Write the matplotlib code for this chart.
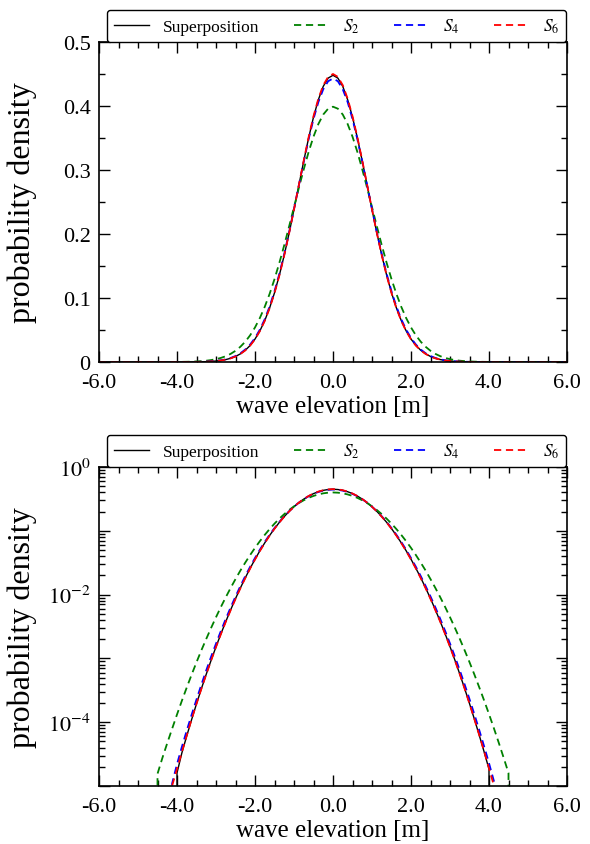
import math
import matplotlib
matplotlib.use('Agg')
import matplotlib.pyplot as plt
from matplotlib.ticker import FixedLocator, MultipleLocator, LogLocator, NullFormatter, FuncFormatter

plt.rcParams['font.family'] = ['Liberation Serif', 'DejaVu Serif']
plt.rcParams['mathtext.fontset'] = 'stix'
plt.rcParams['axes.unicode_minus'] = False

# ---- data ----
x = [-6.0,
     -4.75, -4.625, -4.5, -4.375, -4.25, -4.125, -4.0, -3.875,
     -3.75, -3.625, -3.5, -3.375, -3.25, -3.125, -3.0, -2.875,
     -2.75, -2.625, -2.5, -2.375, -2.25, -2.125, -2.0, -1.875,
     -1.75, -1.625, -1.5, -1.375, -1.25, -1.125, -1.0, -0.875,
     -0.75, -0.625, -0.5, -0.375, -0.25, -0.125,
     0.0,
     0.125, 0.25, 0.375, 0.5, 0.625, 0.75,
     0.875, 1.0, 1.125, 1.25, 1.375, 1.5, 1.625, 1.75,
     1.875, 2.0, 2.125, 2.25, 2.375, 2.5, 2.625, 2.75,
     2.875, 3.0, 3.125, 3.25, 3.375, 3.5, 3.625, 3.75,
     3.875, 4.0, 4.125, 4.25, 4.375, 4.5, 4.625, 4.75,
     6.0]

superposition = [0,
    0, 0, 0, 0, 0, 0, 1.6e-5, 3.3e-5,
    6.1e-5, 1.10e-4, 1.94e-4, 3.35e-4, 5.65e-4, 9.35e-4, 1.52e-3, 2.42e-3,
    3.77e-3, 5.76e-3, 8.64e-3, 0.01270, 0.01830, 0.0258, 0.0358, 0.0486,
    0.0647, 0.0845, 0.1081, 0.1357, 0.1670, 0.2014, 0.2383, 0.2763,
    0.3141, 0.3501, 0.3826, 0.4099, 0.4307, 0.4436,
    0.448,
    0.4436, 0.4307, 0.4099, 0.3826, 0.3501, 0.3141,
    0.2763, 0.2383, 0.2015, 0.1671, 0.1358, 0.1082, 0.0846, 0.0648,
    0.0487, 0.0359, 0.0259, 0.01834, 0.01274, 0.00867, 0.00578, 0.00379,
    0.00243, 0.00153, 0.000942, 0.000570, 0.000338, 0.000196, 0.000112, 6.25e-5,
    3.43e-5, 1.84e-5, 0, 0, 0, 0, 0, 0,
    0]

s2 = [0,
    0, 0, 1.55e-5, 2.75e-5, 4.7e-5, 7.9e-5, 1.32e-4, 2.17e-4,
    3.50e-4, 5.56e-4, 8.70e-4, 1.34e-3, 2.02e-3, 3.01e-3, 4.42e-3, 6.39e-3,
    9.07e-3, 0.0127, 0.0175, 0.0238, 0.0317, 0.0417, 0.0540, 0.0688,
    0.0863, 0.1065, 0.1295, 0.1550, 0.1826, 0.2119, 0.2420, 0.2721,
    0.3011, 0.3282, 0.3521, 0.3719, 0.3867, 0.3958,
    0.3989,
    0.3958, 0.3867, 0.3719, 0.3521, 0.3282, 0.3011,
    0.2721, 0.2420, 0.2119, 0.1826, 0.1550, 0.1295, 0.1065, 0.0863,
    0.0688, 0.0540, 0.0417, 0.0317, 0.0238, 0.0175, 0.0127, 0.00909,
    0.00640, 0.00443, 0.00302, 0.00203, 0.00134, 0.000873, 0.000559, 0.000352,
    0.000219, 0.000134, 8.05e-5, 4.77e-5, 2.78e-5, 1.60e-5, 0, 0,
    0]

s4 = [0,
    0, 0, 0, 0, 0, 1.1e-5, 2.2e-5, 4.1e-5,
    7.4e-5, 1.31e-4, 2.27e-4, 3.88e-4, 6.50e-4, 1.065e-3, 1.70e-3, 2.69e-3,
    4.15e-3, 6.28e-3, 9.33e-3, 0.01360, 0.0195, 0.0273, 0.0375, 0.0506,
    0.0669, 0.0868, 0.1105, 0.1379, 0.1688, 0.2028, 0.2390, 0.2762,
    0.3131, 0.3481, 0.3797, 0.4062, 0.4262, 0.4387,
    0.443,
    0.4387, 0.4262, 0.4062, 0.3797, 0.3481, 0.3131,
    0.2762, 0.2390, 0.2028, 0.1688, 0.1379, 0.1105, 0.0868, 0.0669,
    0.0506, 0.0375, 0.0273, 0.0195, 0.01362, 0.00935, 0.00630, 0.00416,
    0.00270, 0.00171, 0.00107, 0.000653, 0.000391, 0.000230, 0.000133, 7.52e-5,
    4.18e-5, 2.28e-5, 1.2e-5, 0, 0, 0, 0, 0,
    0]

s6 = [0,
    0, 0, 0, 0, 0, 1.01e-5, 1.85e-5, 3.4e-5,
    6.2e-5, 1.11e-4, 1.94e-4, 3.34e-4, 5.62e-4, 9.30e-4, 1.51e-3, 2.40e-3,
    3.74e-3, 5.69e-3, 8.55e-3, 0.01256, 0.0181, 0.0256, 0.0355, 0.0483,
    0.0643, 0.0841, 0.1077, 0.1353, 0.1667, 0.2013, 0.2384, 0.2767,
    0.3148, 0.3512, 0.3840, 0.4115, 0.4325, 0.4455,
    0.450,
    0.4455, 0.4325, 0.4115, 0.3840, 0.3512, 0.3148,
    0.2767, 0.2384, 0.2013, 0.1667, 0.1353, 0.1077, 0.0841, 0.0643,
    0.0483, 0.0355, 0.0256, 0.0181, 0.01258, 0.00856, 0.00571, 0.00375,
    0.00241, 0.00152, 0.000935, 0.000566, 0.000336, 0.000195, 0.000112, 6.3e-5,
    3.5e-5, 1.9e-5, 1.02e-5, 0, 0, 0, 0, 0,
    0]

series_labels = ['Superposition', '$S_2$', '$S_4$', '$S_6$']
xticks = [-6, -4, -2, 0, 2, 4, 6]
xtick_labels = ['-6.0', '-4.0', '-2.0', '0.0', '2.0', '4.0', '6.0']
yticks_lin = [0, 0.1, 0.2, 0.3, 0.4, 0.5]
ytick_lin_labels = ['0', '0.1', '0.2', '0.3', '0.4', '0.5']
xlabel = 'wave elevation [m]'
ylabel = 'probability density'

W, H = 590, 845
fig = plt.figure(figsize=(W / 100, H / 100), dpi=100)

def px_axes(l, t, r, b):
    return fig.add_axes([l / W, 1 - b / H, (r - l) / W, (b - t) / H])

ax1 = px_axes(99, 43, 567, 363)
ax2 = px_axes(99, 468, 567, 787)

styles = [
    dict(color='black', lw=1.0, ls='-'),
    dict(color='#008000', lw=1.3, ls=(0, (4, 2.6))),
    dict(color='#0000ff', lw=1.3, ls=(0, (4, 2.6))),
    dict(color='#ff0000', lw=1.3, ls=(0, (4, 2.6))),
]
data = [superposition, s2, s4, s6]

for ax in (ax1, ax2):
    for d, st, lab in zip(data, styles, series_labels):
        ax.plot(x, d, label=lab, **st)
    ax.set_xlim(-6, 6)
    ax.xaxis.set_major_locator(FixedLocator(xticks))
    ax.set_xticklabels(xtick_labels)
    ax.xaxis.set_minor_locator(MultipleLocator(0.5))
    ax.tick_params(which='both', direction='in', top=True, right=True,
                   labelsize=16, width=1.0)
    ax.tick_params(which='major', length=8, pad=6)
    ax.tick_params(axis='x', which='major', pad=8)
    ax.tick_params(which='minor', length=4)
    for sp in ax.spines.values():
        sp.set_linewidth(1.2)
    ax.set_xlabel(xlabel, fontsize=18, labelpad=2)
    ax.set_ylabel(ylabel, fontsize=23)
    ax.yaxis.set_label_coords(-0.133, 0.5)
    leg = ax.legend(loc='lower left', bbox_to_anchor=(0.017, 1.0, 0.981, 0.1),
                    mode='expand', ncol=4, fontsize=12.5, frameon=True,
                    fancybox=True, edgecolor='black', framealpha=1,
                    borderaxespad=0, handlelength=2.0, columnspacing=2.0)
    leg.get_frame().set_linewidth(1.0)

ax1.set_ylim(0, 0.5)
ax1.yaxis.set_major_locator(FixedLocator(yticks_lin))
ax1.set_yticklabels(ytick_lin_labels)
ax1.yaxis.set_minor_locator(MultipleLocator(0.05))

ax2.set_yscale('log')
ax2.set_ylim(1e-5, 1)
ax2.yaxis.set_major_locator(LogLocator(base=10, numticks=20))
ax2.yaxis.set_minor_locator(LogLocator(base=10, subs=range(2, 10), numticks=20))
ax2.yaxis.set_minor_formatter(NullFormatter())

def logfmt(v, pos):
    e = int(round(math.log10(v)))
    return r'$10^{%d}$' % e if e % 2 == 0 else ''

ax2.yaxis.set_major_formatter(FuncFormatter(logfmt))

fig.savefig('out.png', dpi=100)
